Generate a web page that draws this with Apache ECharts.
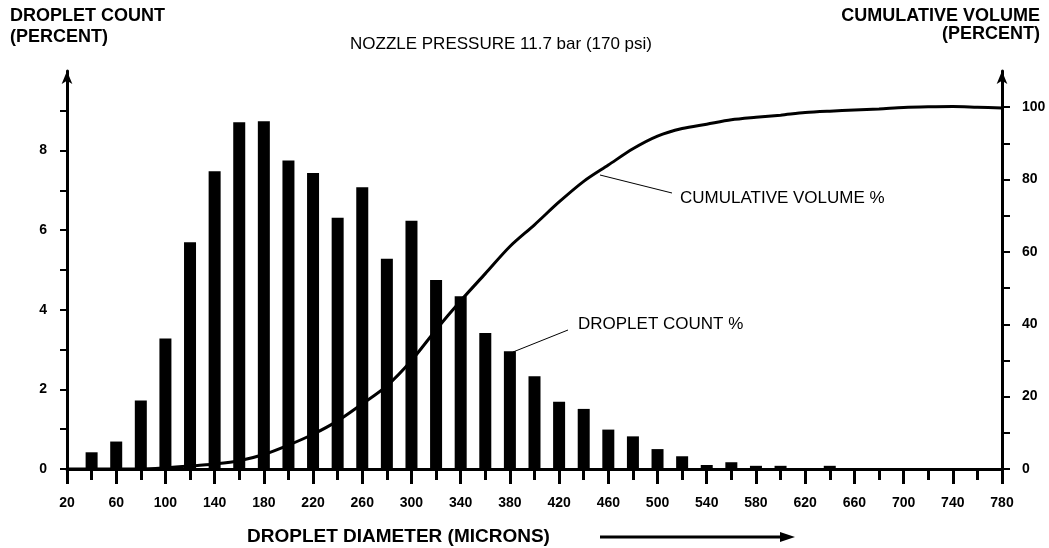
<!DOCTYPE html>
<html>
<head>
<meta charset="utf-8">
<script src="https://cdn.jsdelivr.net/npm/echarts@6/dist/echarts.min.js"></script>
<style>
  html, body { margin: 0; padding: 0; background: #fff; }
  #droplet-chart { width: 1049px; height: 548px; }
</style>
</head>
<body>
<div id="droplet-chart"></div>
<script>
// droplet count histogram (percent), one bar every 20 microns
const diameters = [40, 60, 80, 100, 120, 140, 160, 180, 200, 220, 240, 260, 280, 300, 320, 340,
  360, 380, 400, 420, 440, 460, 480, 500, 520, 540, 560, 580, 600, 620, 640]
const dropletCount = [0.42, 0.69, 1.72, 3.28, 5.70, 7.48, 8.71, 8.74, 7.75, 7.44, 6.31, 7.08, 5.28, 6.24, 4.75, 4.34,
  3.42, 2.96, 2.33, 1.69, 1.51, 0.99, 0.82, 0.50, 0.32, 0.10, 0.17, 0.08, 0.08, 0, 0.08]

// cumulative volume curve (percent)
const volumeDiameters = [20, 40, 60, 80, 100, 120, 140, 160, 180, 200, 220, 240, 260, 280, 300, 320, 340, 360, 380, 400,
  420, 440, 460, 480, 500, 520, 540, 560, 580, 600, 620, 640, 660, 680, 700, 720, 740, 760, 780]
const cumulativeVolume = [0, 0, 0, 0, 0.3, 0.8, 1.4, 2.3, 4.0, 6.6, 9.6, 13.3, 18.0, 23.0, 30.0, 38.5, 46.5, 54.0, 61.5, 67.5,
  73.8, 79.5, 84.0, 88.5, 92.0, 94.1, 95.3, 96.5, 97.2, 97.8, 98.5, 98.9, 99.2, 99.5, 99.9, 100.1, 100.2, 100.0, 99.8]

// tick labels
const leftTickValues = [0, 1, 2, 3, 4, 5, 6, 7, 8, 9]
const leftLabels = [0, 2, 4, 6, 8]
const rightTickValues = [0, 10, 20, 30, 40, 50, 60, 70, 80, 90, 100]
const rightLabels = [0, 20, 40, 60, 80, 100]

const font = 'Liberation Sans, Arial, Helvetica, sans-serif'

const chart = echarts.init(document.getElementById('droplet-chart'))

let countData = []
for (let i = 0; i < diameters.length; i++) {
  countData.push([diameters[i], dropletCount[i]])
}
let volumeData = []
for (let i = 0; i < volumeDiameters.length; i++) {
  volumeData.push([volumeDiameters[i], cumulativeVolume[i]])
}

const option = {
  backgroundColor: '#fff',
  animation: false,
  grid: {
    left: 67,
    right: 47,
    top: 71,
    bottom: 79
  },
  xAxis: {
    type: 'value',
    min: 20,
    max: 780,
    interval: 40,
    axisLine: {
      lineStyle: { color: '#000', width: 3 }
    },
    axisTick: {
      length: 15,
      lineStyle: { color: '#000', width: 3 }
    },
    minorTick: {
      show: true,
      splitNumber: 2,
      length: 11,
      lineStyle: { color: '#000', width: 3 }
    },
    splitLine: { show: false },
    minorSplitLine: { show: false },
    axisLabel: {
      margin: 27,
      color: '#000',
      fontFamily: font,
      fontWeight: 'bold',
      fontSize: 14
    }
  },
  yAxis: [
    {
      type: 'value',
      min: 0,
      max: 10,
      axisLine: {
        show: true,
        symbol: ['none', 'arrow'],
        symbolSize: [8, 13],
        lineStyle: { color: '#000', width: 3 }
      },
      axisTick: {
        show: true,
        length: 7,
        customValues: leftTickValues,
        lineStyle: { color: '#000', width: 2 }
      },
      splitLine: { show: false },
      axisLabel: {
        margin: 20,
        customValues: leftLabels,
        color: '#000',
        fontFamily: font,
        fontWeight: 'bold',
        fontSize: 14
      }
    },
    {
      type: 'value',
      min: 0,
      max: 110,
      position: 'right',
      axisLine: {
        show: true,
        symbol: ['none', 'arrow'],
        symbolSize: [8, 13],
        lineStyle: { color: '#000', width: 3 }
      },
      axisTick: {
        show: true,
        length: 8,
        customValues: rightTickValues,
        lineStyle: { color: '#000', width: 2 }
      },
      splitLine: { show: false },
      axisLabel: {
        margin: 20,
        customValues: rightLabels,
        color: '#000',
        fontFamily: font,
        fontWeight: 'bold',
        fontSize: 14
      }
    }
  ],
  series: [
    {
      name: 'DROPLET COUNT %',
      type: 'bar',
      barWidth: 12,
      itemStyle: { color: '#000' },
      data: countData
    },
    {
      name: 'CUMULATIVE VOLUME %',
      type: 'line',
      yAxisIndex: 1,
      smooth: 0.3,
      showSymbol: false,
      lineStyle: { color: '#000', width: 3 },
      data: volumeData,
      z: 3
    }
  ],
  graphic: [
    // axis titles
    { type: 'text', left: 10, top: 7, style: { text: 'DROPLET COUNT', font: 'bold 18px ' + font, fill: '#000' } },
    { type: 'text', left: 10, top: 28, style: { text: '(PERCENT)', font: 'bold 18px ' + font, fill: '#000' } },
    { type: 'text', right: 9, top: 7, style: { text: 'CUMULATIVE VOLUME', font: 'bold 18px ' + font, fill: '#000', align: 'right' } },
    { type: 'text', right: 9, top: 25, style: { text: '(PERCENT)', font: 'bold 18px ' + font, fill: '#000', align: 'right' } },
    { type: 'text', left: 350, top: 36, style: { text: 'NOZZLE PRESSURE 11.7 bar (170 psi)', font: '17px ' + font, fill: '#000' } },
    // series annotations with leader lines
    { type: 'line', shape: { x1: 600, y1: 175, x2: 672, y2: 193 }, style: { stroke: '#000', lineWidth: 1 } },
    { type: 'text', left: 680, top: 190, style: { text: 'CUMULATIVE VOLUME %', font: '17px ' + font, fill: '#000' } },
    { type: 'line', shape: { x1: 513, y1: 352, x2: 568, y2: 330 }, style: { stroke: '#000', lineWidth: 1 } },
    { type: 'text', left: 578, top: 316, style: { text: 'DROPLET COUNT %', font: '17px ' + font, fill: '#000' } },
    // x axis title with arrow
    { type: 'text', left: 247, top: 527, style: { text: 'DROPLET DIAMETER (MICRONS)', font: 'bold 19px ' + font, fill: '#000' } },
    { type: 'line', shape: { x1: 600, y1: 537, x2: 782, y2: 537 }, style: { stroke: '#000', lineWidth: 3 } },
    { type: 'polygon', shape: { points: [[780, 532], [795, 537], [780, 542]] }, style: { fill: '#000' } }
  ]
}

chart.setOption(option)
</script>
</body>
</html>
